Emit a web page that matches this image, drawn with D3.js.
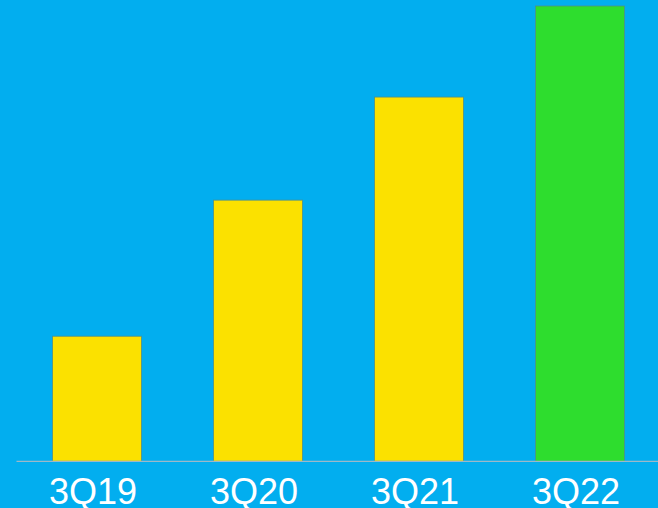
<!DOCTYPE html>
<html>
<head>
<meta charset="utf-8">
<script src="https://cdn.jsdelivr.net/npm/d3@7/dist/d3.min.js"></script>
<style>
  html, body { margin: 0; padding: 0; background: #02AEEF; }
  svg { display: block; }
</style>
</head>
<body>
<svg id="chart" width="658" height="508"></svg>
<script>
// Quarterly values (relative units)
const quarters = ["3Q19", "3Q20", "3Q21", "3Q22"];
const values = [1.25, 2.61, 3.64, 4.55];
const barColors = ["#FBE100", "#FBE100", "#FBE100", "#2EDD2E"];

const width = 658, height = 508;
const baseline = 461.3;
const svg = d3.select("#chart");

svg.append("rect")
  .attr("width", width).attr("height", height)
  .attr("fill", "#02AEEF");

const x = d3.scaleBand()
  .domain(quarters)
  .range([16.5, 660.5])
  .paddingInner(0.447)
  .paddingOuter(0.2235);

const y = d3.scaleLinear()
  .domain([0, 4.55])
  .range([baseline, 6]);

svg.selectAll("rect.bar")
  .data(quarters)
  .join("rect")
  .attr("class", "bar")
  .attr("x", d => x(d))
  .attr("width", x.bandwidth())
  .attr("y", (d, i) => y(values[i]))
  .attr("height", (d, i) => baseline - y(values[i]))
  .attr("fill", (d, i) => barColors[i])
  .attr("stroke", "#4f8f8a")
  .attr("stroke-width", 0.8);

// Baseline
svg.append("line")
  .attr("x1", 16.5).attr("x2", width)
  .attr("y1", baseline).attr("y2", baseline)
  .attr("stroke", "#9DB8C8")
  .attr("stroke-width", 1.3);

// Category labels
const xAxis = d3.axisBottom(x).tickSize(0).tickPadding(0);
const g = svg.append("g")
  .attr("transform", `translate(0,${baseline})`)
  .call(xAxis);
g.select(".domain").remove();
g.selectAll("text")
  .attr("dy", null)
  .attr("y", 43)
  .attr("dx", -4)
  .attr("fill", "#FFFFFF")
  .style("font-family", "'Liberation Sans', Arial, sans-serif")
  .style("font-size", "36px");
</script>
</body>
</html>
